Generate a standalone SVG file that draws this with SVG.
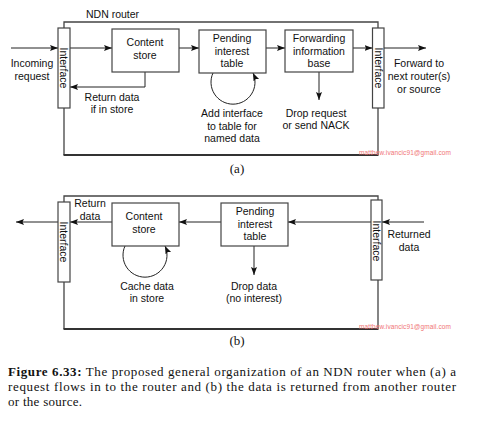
<svg xmlns="http://www.w3.org/2000/svg" width="478" height="425" viewBox="0 0 478 425">
<defs>
<marker id="ah" markerUnits="userSpaceOnUse" markerWidth="10" markerHeight="8" refX="8" refY="3" orient="auto">
<path d="M0,0 L8,3 L0,6 L1.5,3 z" fill="#111"/>
</marker>
<style>
.t{font-family:"Liberation Sans",Arial,sans-serif;font-size:10.5px;fill:#111;text-anchor:middle}
.box{fill:#fff;stroke:#444;stroke-width:1.2}
.frame{fill:none;stroke:#444;stroke-width:1.3}
.c{fill:none;stroke:#222;stroke-width:1;marker-end:url(#ah)}
.wm{font-family:"Liberation Sans",Arial,sans-serif;font-size:6.5px;fill:#f07575}
.cap{font-family:"Liberation Serif","Times New Roman",serif;font-size:13px;fill:#111}
</style>
</defs>
<rect width="478" height="425" fill="#fff"/>

<!-- (a) frame -->
<g id="routerA">
<path class="frame" d="M64,155 V22 H378 V155"/>
<path d="M63.5,155 H378.5" stroke="#333" stroke-width="2"/>
<text class="t" x="86" y="18" style="text-anchor:start">NDN router</text>
</g>

<g id="connectorsA">
<path class="c" d="M11,48 H58"/>
<path class="c" d="M70,48 H112"/>
<path class="c" d="M145,72 V87 H70"/>
<path class="c" d="M179,48 H199"/>
<path class="c" d="M213,73 A22,22 0 1 0 253,73"/>
<path class="c" d="M266,48 H285"/>
<path class="c" d="M319,72 V100"/>
<path class="c" d="M353,48 H372.5"/>
<path class="c" d="M384,48 H426"/>
</g>

<g id="ifaceA1">
<rect class="box" x="58" y="28" width="12" height="80"/>
<text class="t" x="64" y="71.8" transform="rotate(90 64 68)">Interface</text>
</g>
<g id="csA">
<rect class="box" x="112" y="29" width="67" height="43"/>
<text class="t" x="145" y="46">Content</text>
<text class="t" x="145" y="59">store</text>
</g>
<g id="pitA">
<rect class="box" x="199" y="30" width="67" height="43"/>
<text class="t" x="232" y="42">Pending</text>
<text class="t" x="232" y="55">interest</text>
<text class="t" x="232" y="67">table</text>
</g>
<g id="fibA">
<rect class="box" x="285" y="30" width="68" height="42"/>
<text class="t" x="319" y="42">Forwarding</text>
<text class="t" x="319" y="54.5">information</text>
<text class="t" x="319" y="67">base</text>
</g>
<g id="ifaceA2">
<rect class="box" x="372.5" y="28" width="11.5" height="80"/>
<text class="t" x="378.3" y="71.8" transform="rotate(90 378.3 68)">Interface</text>
</g>

<g id="labelsA">
<text class="t" x="32" y="67">Incoming</text>
<text class="t" x="32" y="80">request</text>
<text class="t" x="112" y="101">Return data</text>
<text class="t" x="112" y="113">if in store</text>
<text class="t" x="232" y="117">Add interface</text>
<text class="t" x="232" y="130">to table for</text>
<text class="t" x="232" y="142">named data</text>
<text class="t" x="316" y="116.5">Drop request</text>
<text class="t" x="316" y="129">or send NACK</text>
<text class="t" x="419" y="67">Forward to</text>
<text class="t" x="419" y="80">next router(s)</text>
<text class="t" x="419" y="92.5">or source</text>
<text class="wm" x="359" y="154.5" textLength="92">matthew.ivancic91@gmail.com</text>
<text class="cap" x="237" y="173" text-anchor="middle">(a)</text>
</g>

<!-- (b) frame -->
<g id="routerB">
<path class="frame" d="M64,329 V196 H378 V329"/>
<path d="M63.5,329 H378.5" stroke="#333" stroke-width="2"/>
</g>

<g id="connectorsB">
<path class="c" d="M424,222 H382"/>
<path class="c" d="M371,222 H288"/>
<path class="c" d="M221,222 H179"/>
<path class="c" d="M112,222 H70"/>
<path class="c" d="M58,222 H16"/>
<path class="c" d="M125,246 A22,22 0 1 0 165,246"/>
<path class="c" d="M254,246 V275"/>
</g>

<g id="ifaceB1">
<rect class="box" x="58" y="202" width="12" height="80"/>
<text class="t" x="64" y="245.8" transform="rotate(90 64 242)">Interface</text>
</g>
<g id="csB">
<rect class="box" x="112" y="203" width="67" height="43"/>
<text class="t" x="144" y="220">Content</text>
<text class="t" x="144" y="233">store</text>
</g>
<g id="pitB">
<rect class="box" x="221" y="203" width="67" height="43"/>
<text class="t" x="255" y="215">Pending</text>
<text class="t" x="255" y="228">interest</text>
<text class="t" x="255" y="240">table</text>
</g>
<g id="ifaceB2">
<rect class="box" x="371" y="200" width="11" height="80"/>
<text class="t" x="376.5" y="244.8" transform="rotate(90 376.5 241)">Interface</text>
</g>

<g id="labelsB">
<text class="t" x="90" y="207">Return</text>
<text class="t" x="90" y="220">data</text>
<text class="t" x="147" y="289.5">Cache data</text>
<text class="t" x="147" y="302">in store</text>
<text class="t" x="254" y="289.5">Drop data</text>
<text class="t" x="254" y="302">(no interest)</text>
<text class="t" x="409" y="238">Returned</text>
<text class="t" x="409" y="251">data</text>
<text class="wm" x="359" y="328.5" textLength="92">matthew.ivancic91@gmail.com</text>
<text class="cap" x="237" y="345" text-anchor="middle">(b)</text>
</g>

<g id="caption">
<text class="cap" x="8" y="376" textLength="448"><tspan font-weight="bold">Figure 6.33:</tspan> The proposed general organization of an NDN router when (a) a</text>
<text class="cap" x="8" y="391" textLength="448">request flows in to the router and (b) the data is returned from another router</text>
<text class="cap" x="8" y="406" textLength="74">or the source.</text>
</g>
</svg>
